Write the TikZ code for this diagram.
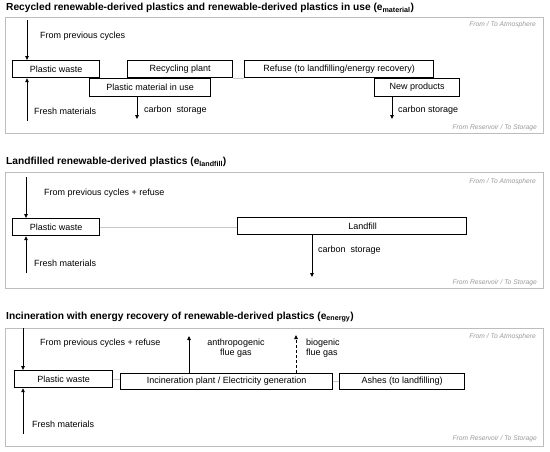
\documentclass[tikz,border=0pt]{standalone}
\usepackage{fontspec}
\setmainfont{Liberation Sans}
\usetikzlibrary{arrows.meta}
\definecolor{panelgray}{HTML}{BDBDBD}
\definecolor{linkgray}{HTML}{C8C8C8}
\definecolor{notegray}{HTML}{9A9A9A}
\begin{document}
\begin{tikzpicture}[x=1pt,y=-1pt,
 panel/.style={draw=panelgray, line width=0.9pt, inner sep=0pt, anchor=north west},
 box/.style={draw=black, line width=1.2pt, inner sep=0pt, anchor=north west, font=\fontsize{9}{10}\selectfont},
 lbl/.style={inner sep=0pt, anchor=west, font=\fontsize{9}{10}\selectfont},
 ttl/.style={inner sep=0pt, anchor=west, font=\bfseries\fontsize{10.2}{12}\selectfont},
 note/.style={inner sep=0pt, anchor=east, text=notegray, font=\itshape\fontsize{6.7}{8}\selectfont},
 arr/.style={-{Triangle[length=4pt,width=3.5pt]}, line width=0.8pt},
 link/.style={draw=linkgray, line width=0.8pt}]
\useasboundingbox[fill=white] (0,0) rectangle (550,451);

% ---------- Panel 1 ----------
\node[ttl] (t1) at (6,8) {Recycled renewable-derived plastics and renewable-derived plastics in use (e\textsubscript{material})};
\node[panel, minimum width=538pt, minimum height=116pt] (p1) at (5,17) {};
\node[note] (n1a) at (536,25) {From / To Atmosphere};
\node[note] (n1b) at (537,128) {From Reservoir / To Storage};
\node[box, minimum width=87pt, minimum height=17pt] (pw1) at (12,60) {Plastic waste};
\node[box, minimum width=105pt, minimum height=17pt] (rp) at (127,60) {Recycling plant};
\node[box, minimum width=121pt, minimum height=18pt] (pm) at (89,78) {Plastic material in use};
\node[box, minimum width=189pt, minimum height=17pt] (ref) at (244,60) {Refuse (to landfilling/energy recovery)};
\node[box, minimum width=85pt, minimum height=18pt] (np) at (374,78) {New products};
\draw[link] (rp.south east) -- (ref.south west);
\coordinate (c1a) at (27,20);
\draw[arr] (c1a) -- (c1a |- pw1.north);
\coordinate (c1b) at (27,121);
\draw[arr] (c1b) -- (c1b |- pw1.south);
\node[lbl] (l1a) at (40,36) {From previous cycles};
\node[lbl] (l1b) at (34,111) {Fresh materials};
\coordinate (c1c) at (137,119);
\draw[arr] (c1c |- pm.south) -- (c1c);
\node[lbl] (l1c) at (144,110) {carbon\ \ storage};
\coordinate (c1d) at (392,119);
\draw[arr] (c1d |- np.south) -- (c1d);
\node[lbl] (l1d) at (398,110) {carbon storage};

% ---------- Panel 2 ----------
\node[ttl] (t2) at (6,162) {Landfilled renewable-derived plastics (e\textsubscript{landfill})};
\node[panel, minimum width=538pt, minimum height=116pt] (p2) at (5,172) {};
\node[note] (n2a) at (536,182) {From / To Atmosphere};
\node[note] (n2b) at (537,283) {From Reservoir / To Storage};
\node[box, minimum width=87pt, minimum height=17pt] (pw2) at (12,218) {Plastic waste};
\node[box, minimum width=229pt, minimum height=17pt] (lf) at (237,217) {\hspace*{21pt}Landfill};
\draw[link] (pw2.east) -- (pw2.east -| lf.west);
\coordinate (c2a) at (26,177);
\draw[arr] (c2a) -- (c2a |- pw2.north);
\coordinate (c2b) at (26,273);
\draw[arr] (c2b) -- (c2b |- pw2.south);
\node[lbl] (l2a) at (44,193) {From previous cycles + refuse};
\node[lbl] (l2b) at (34,263) {Fresh materials};
\coordinate (c2c) at (312,277);
\draw[arr] (c2c |- lf.south) -- (c2c);
\node[lbl] (l2c) at (318,250) {carbon\ \ storage};

% ---------- Panel 3 ----------
\node[ttl] (t3) at (6,317) {Incineration with energy recovery of renewable-derived plastics (e\textsubscript{energy})};
\node[panel, minimum width=538pt, minimum height=118pt] (p3) at (5,328) {};
\node[note] (n3a) at (536,337) {From / To Atmosphere};
\node[note] (n3b) at (537,439) {From Reservoir / To Storage};
\node[box, minimum width=98pt, minimum height=17pt] (pw3) at (14,370) {Plastic waste};
\node[box, minimum width=212pt, minimum height=16pt] (inc) at (120,373) {Incineration plant / Electricity generation};
\node[box, minimum width=125pt, minimum height=16pt] (ash) at (339,373) {Ashes (to landfilling)};
\draw[link] (pw3.east) -- (pw3.east -| inc.west);
\draw[link] (inc.east) -- (ash.west);
\coordinate (c3a) at (23,328);
\draw[arr] (c3a) -- (c3a |- pw3.north);
\coordinate (c3b) at (23,434);
\draw[arr] (c3b) -- (c3b |- pw3.south);
\node[lbl] (l3a) at (40,343) {From previous cycles + refuse};
\node[lbl] (l3b) at (32,424) {Fresh materials};
\coordinate (c3c) at (189,336);
\draw[arr] (c3c |- inc.north) -- (c3c);
\node[lbl, anchor=center, align=center] (l3c) at (236,348) {anthropogenic\\flue gas};
\coordinate (c3d) at (296,335);
\draw[arr, dash pattern=on 3pt off 2pt] (c3d |- inc.north) -- (c3d);
\node[lbl, align=left] (l3d) at (306,348) {biogenic\\flue gas};
\end{tikzpicture}
\end{document}
